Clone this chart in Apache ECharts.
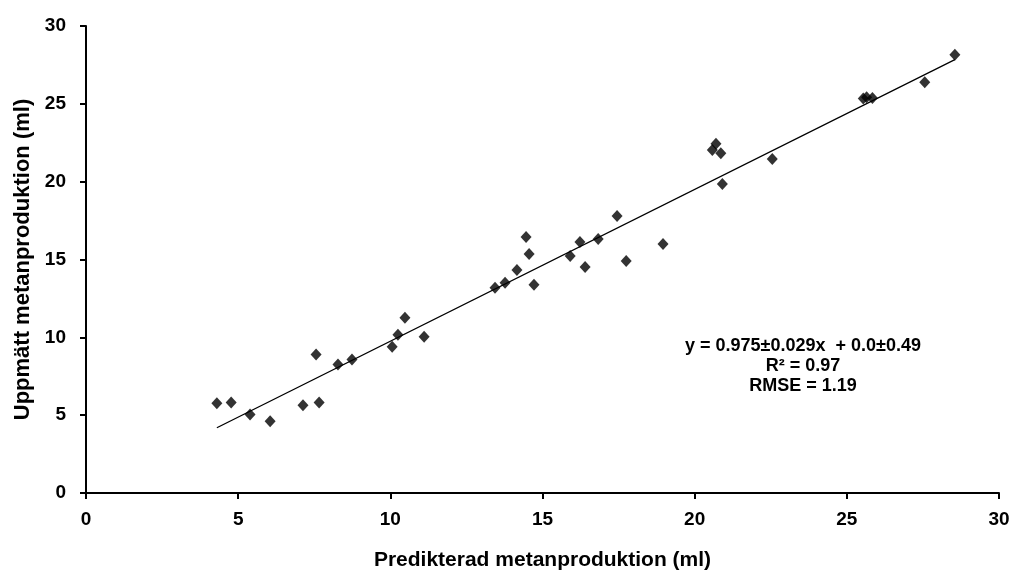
<!DOCTYPE html>
<html>
<head>
<meta charset="utf-8">
<script src="https://cdn.jsdelivr.net/npm/echarts@6/dist/echarts.min.js"></script>
<style>
  html, body { margin: 0; padding: 0; background: #fff; }
  #main { width: 1015px; height: 576px; }
</style>
</head>
<body>
<div id="main"></div>
<script>
// predikterad (x) och uppmätt (y) metanproduktion, ml
var predicted = [4.30, 4.77, 5.39, 6.05, 7.13, 7.56, 7.66, 8.28, 8.74, 10.06, 10.25, 10.48, 11.11,
    13.44, 13.77, 14.16, 14.46, 14.56, 14.72, 15.91, 16.23, 16.40, 16.83, 17.45, 17.75, 18.96,
    20.58, 20.70, 20.86, 20.91, 22.55, 25.54, 25.65, 25.84, 27.56, 28.55];
var measured = [5.76, 5.82, 5.05, 4.61, 5.63, 8.89, 5.82, 8.25, 8.57, 9.40, 10.17, 11.26, 10.04,
    13.18, 13.50, 14.33, 16.44, 15.36, 13.37, 15.23, 16.12, 14.52, 16.31, 17.79, 14.91, 16.00,
    22.03, 22.44, 21.82, 19.85, 21.45, 25.34, 25.42, 25.38, 26.38, 28.15];
var fitSlope = 0.975;
var fitIntercept = 0.0;
var statLines = ['y = 0.975±0.029x  + 0.0±0.49', 'R² = 0.97', 'RMSE = 1.19'];

var points = predicted.map(function (x, i) { return [x, measured[i]]; });
var xMin = Math.min.apply(null, predicted);
var xMax = Math.max.apply(null, predicted);
var fitLine = [[xMin, fitIntercept + fitSlope * xMin], [xMax, fitIntercept + fitSlope * xMax]];

var myChart = echarts.init(document.getElementById('main'));

var axisFont = { fontFamily: 'Liberation Sans', fontWeight: 'bold', color: '#000' };

option = {
    animation: false,
    grid: {
        left: 86,
        right: 16,
        top: 26,
        bottom: 81
    },
    xAxis: {
        type: 'value',
        min: 0,
        max: 30,
        interval: 5,
        name: 'Predikterad metanproduktion (ml)',
        nameLocation: 'middle',
        nameGap: 57,
        nameTextStyle: Object.assign({ fontSize: 21 }, axisFont),
        axisLine: { lineStyle: { color: '#000', width: 2 } },
        axisTick: { inside: false, length: 6, lineStyle: { color: '#000', width: 2 } },
        axisLabel: Object.assign({ fontSize: 19, margin: 17 }, axisFont),
        splitLine: { show: false }
    },
    yAxis: {
        type: 'value',
        min: 0,
        max: 30,
        interval: 5,
        name: 'Uppmätt metanproduktion (ml)',
        nameLocation: 'middle',
        nameGap: 52,
        nameTextStyle: Object.assign({ fontSize: 22 }, axisFont),
        axisLine: { show: true, lineStyle: { color: '#000', width: 2 } },
        axisTick: { show: true, inside: false, length: 6, lineStyle: { color: '#000', width: 2 } },
        axisLabel: Object.assign({ fontSize: 19, margin: 20 }, axisFont),
        splitLine: { show: false }
    },
    series: [
        {
            name: 'fit',
            type: 'line',
            data: fitLine,
            showSymbol: false,
            lineStyle: { color: '#000', width: 1.3 },
            z: 1
        },
        {
            name: 'data',
            type: 'scatter',
            data: points,
            symbol: 'diamond',
            symbolSize: [11, 12],
            itemStyle: { color: '#000' },
            z: 2
        }
    ],
    graphic: [{
        type: 'text',
        x: 803,
        y: 336,
        style: {
            text: statLines.join('\n'),
            fontFamily: 'Liberation Sans',
            fontWeight: 'bold',
            fontSize: 18,
            lineHeight: 20,
            fill: '#000',
            align: 'center',
            verticalAlign: 'top'
        }
    }]
};

myChart.setOption(option);
</script>
</body>
</html>
